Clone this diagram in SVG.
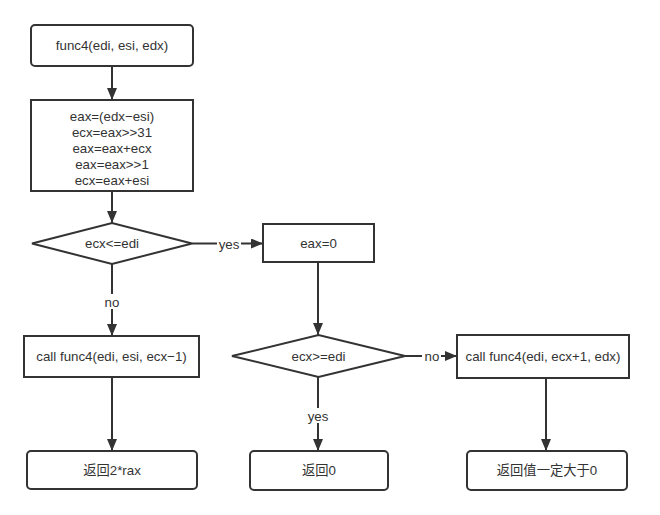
<svg xmlns="http://www.w3.org/2000/svg" width="660" height="515" viewBox="0 0 660 515">
<style>
.n{fill:#fff;stroke:#333;stroke-width:2}
.t{font-family:"Liberation Sans","Noto Sans CJK SC",sans-serif;font-size:13.3px;fill:#333;text-anchor:middle;dominant-baseline:central}
.e{fill:none;stroke:#333;stroke-width:2}
.lb{fill:#fff}
</style>
<defs>
<marker id="ah" viewBox="0 0 12 10" refX="12" refY="5" markerWidth="12" markerHeight="10" markerUnits="userSpaceOnUse" orient="auto">
<path d="M0,0L12,5L0,10Z" fill="#333"/>
</marker>
</defs>
<rect width="660" height="515" fill="#fff"/>
<g id="connectors">
<path class="e" d="M112,66V100" marker-end="url(#ah)"/>
<path class="e" d="M112,191V223" marker-end="url(#ah)"/>
<path class="e" d="M192,243.5H263" marker-end="url(#ah)"/>
<path class="e" d="M112,264V336" marker-end="url(#ah)"/>
<path class="e" d="M318,262V335" marker-end="url(#ah)"/>
<path class="e" d="M405,356H457" marker-end="url(#ah)"/>
<path class="e" d="M318,377V451" marker-end="url(#ah)"/>
<path class="e" d="M112,377V451" marker-end="url(#ah)"/>
<path class="e" d="M546,378V451" marker-end="url(#ah)"/>
<rect class="lb" x="217" y="236" width="24" height="15"/>
<text class="t" x="229" y="244">yes</text>
<rect class="lb" x="101" y="294" width="22" height="15"/>
<text class="t" x="112" y="302">no</text>
<rect class="lb" x="422" y="349" width="19" height="15"/>
<text class="t" x="432" y="356">no</text>
<rect class="lb" x="305" y="408" width="26" height="15"/>
<text class="t" x="318" y="416">yes</text>
</g>
<g id="start">
<rect class="n" x="31" y="25" width="162" height="41" rx="4"/>
<text class="t" x="112" y="45.5">func4(edi, esi, edx)</text>
</g>
<g id="calc">
<rect class="n" x="31" y="100" width="162" height="91"/>
<text class="t" x="112" y="116">eax=(edx−esi)</text>
<text class="t" x="112" y="132">ecx=eax&gt;&gt;31</text>
<text class="t" x="112" y="148">eax=eax+ecx</text>
<text class="t" x="112" y="164">eax=eax&gt;&gt;1</text>
<text class="t" x="112" y="180">ecx=eax+esi</text>
</g>
<g id="cond1">
<polygon class="n" points="32,243.5 112,223 192,243.5 112,264"/>
<text class="t" x="112" y="243.5">ecx&lt;=edi</text>
</g>
<g id="eax0">
<rect class="n" x="263" y="224" width="111" height="38"/>
<text class="t" x="318.5" y="243">eax=0</text>
</g>
<g id="call1">
<rect class="n" x="24" y="336" width="175" height="41"/>
<text class="t" x="111.5" y="356.5">call func4(edi, esi, ecx−1)</text>
</g>
<g id="cond2">
<polygon class="n" points="232,356 318.5,335 405,356 318.5,377"/>
<text class="t" x="318.5" y="356">ecx&gt;=edi</text>
</g>
<g id="call2">
<rect class="n" x="457" y="335" width="172" height="43"/>
<text class="t" x="543" y="356.5">call func4(edi, ecx+1, edx)</text>
</g>
<g id="ret1">
<rect class="n" x="27" y="451" width="170" height="38" rx="4"/>
<text class="t" x="112" y="470">返回2*rax</text>
</g>
<g id="ret2">
<rect class="n" x="250" y="451" width="138" height="39" rx="4"/>
<text class="t" x="319" y="470.5">返回0</text>
</g>
<g id="ret3">
<rect class="n" x="467" y="451" width="160" height="39" rx="4"/>
<text class="t" x="547" y="470.5">返回值一定大于0</text>
</g>
</svg>
